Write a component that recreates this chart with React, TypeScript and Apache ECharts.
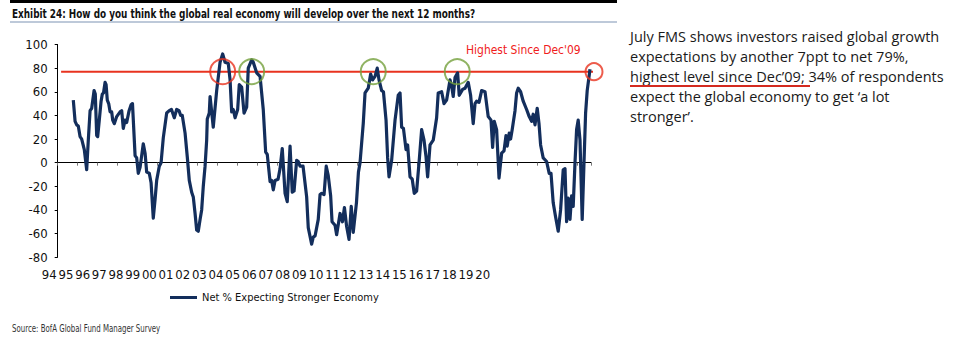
import React, { useEffect, useRef } from "react";
import * as echarts from "echarts";

// Survey dates (decimal years) and net % expecting a stronger economy
const surveyTimes = [
  1994.78, 1994.87, 1994.95, 1995.03, 1995.12, 1995.2, 1995.33, 1995.45, 1995.53, 1995.62,
  1995.7, 1995.82, 1995.88, 1995.95, 1996.0, 1996.08, 1996.17, 1996.23, 1996.29, 1996.37,
  1996.42, 1996.48, 1996.55, 1996.62, 1996.7, 1996.75, 1996.83, 1996.95, 1997.12, 1997.2,
  1997.28, 1997.37, 1997.45, 1997.57, 1997.67, 1997.74, 1997.87, 1997.95, 1998.03, 1998.12,
  1998.28, 1998.37, 1998.45, 1998.58, 1998.67, 1998.78, 1998.87, 1998.95, 1999.08, 1999.17,
  1999.28, 1999.45, 1999.58, 1999.69, 1999.83, 1999.95, 2000.07, 2000.15, 2000.23, 2000.37,
  2000.48, 2000.58, 2000.7, 2000.78, 2000.87, 2000.95, 2001.03, 2001.12, 2001.2, 2001.28,
  2001.37, 2001.45, 2001.48, 2001.58, 2001.62, 2001.78, 2001.95, 2002.12, 2002.25, 2002.37,
  2002.53, 2002.62, 2002.7, 2002.78, 2002.87, 2003.0, 2003.08, 2003.2, 2003.32, 2003.45,
  2003.53, 2003.7, 2003.78, 2003.95, 2004.12, 2004.28, 2004.4, 2004.48, 2004.62, 2004.7,
  2004.78, 2004.87, 2005.02, 2005.12, 2005.23, 2005.37, 2005.48, 2005.62, 2005.73, 2005.82,
  2005.95, 2006.03, 2006.12, 2006.27, 2006.45, 2006.53, 2006.7, 2006.78, 2006.87, 2007.03,
  2007.12, 2007.2, 2007.32, 2007.43, 2007.53, 2007.65, 2007.72, 2007.87, 2007.95, 2008.12,
  2008.24, 2008.34, 2008.45, 2008.57, 2008.68, 2008.78, 2008.94, 2009.04, 2009.12, 2009.28,
  2009.37, 2009.53, 2009.65, 2009.75, 2009.87, 2009.98, 2010.07, 2010.2, 2010.29, 2010.42,
  2010.5, 2010.57, 2010.7, 2010.87, 2011.03, 2011.12, 2011.2, 2011.29, 2011.42, 2011.5,
  2011.62, 2011.73, 2011.83, 2011.95, 2012.08, 2012.2, 2012.32, 2012.42, 2012.5, 2012.62,
  2012.78, 2012.95, 2013.03, 2013.2, 2013.32, 2013.45, 2013.62, 2013.7, 2013.78, 2013.87,
  2014.0, 2014.08, 2014.25, 2014.37, 2014.53, 2014.65, 2014.78, 2014.87, 2014.95, 2015.07,
  2015.2, 2015.37, 2015.53, 2015.67, 2015.75, 2015.83, 2015.95, 2016.07, 2016.2, 2016.32,
  2016.42, 2016.48, 2016.58, 2016.65, 2016.73, 2016.87, 2016.95, 2017.03, 2017.15, 2017.28,
  2017.45, 2017.58, 2017.7, 2017.78, 2017.87, 2017.98, 2018.07, 2018.15, 2018.28, 2018.45,
  2018.58, 2018.67, 2018.78, 2018.9, 2019.03, 2019.15, 2019.28, 2019.37, 2019.45, 2019.53,
  2019.62, 2019.7, 2019.78, 2019.87, 2019.95, 2020.03, 2020.12, 2020.23, 2020.32, 2020.4,
  2020.48, 2020.62,
];

const netStronger = [
  53, 35, 32, 31, 22, 20, 11, -6, 19, 44,
  46, 61, 58, 23, 22, 36, 52, 58, 59, 68,
  66, 53, 50, 43, 43, 36, 33, 39, 43, 44,
  29, 36, 34, 44, 49, 50, 6, 4, -9, -4,
  16, 8, -8, -9, -17, -47, -31, -15, -3, 0,
  21, 42, 44, 45, 38, 45, 44, 40, 40, 25,
  5, -15, -25, -29, -43, -57, -58, -48, -40, -20,
  -3, 19, 37, 42, 56, 30, 61, 85, 92, 85,
  84, 70, 43, 45, 38, 45, 66, 64, 42, 47,
  80, 87, 85, 76, 73, 45, 9, 7, -16, -15,
  -23, -15, -14, -5, 12, -26, -33, 14, -25, -24,
  2, 1, -3, -3, -29, -55, -69, -63, -62, -48,
  -27, -26, -27, -3, -11, -28, -50, -53, -61, -43,
  -50, -38, -54, -65, -37, -59, -34, -8, 0, 33,
  59, 63, 75, 70, 73, 80, 70, 61, 60, 36,
  4, -12, 2, 36, 57, 59, 30, 29, 11, 15,
  -12, -14, -26, -24, 2, 28, 19, 5, -12, 15,
  19, 38, 59, 60, 50, 53, 70, 65, 56, 72,
  76, 57, 62, 63, 68, 57, 33, 50, 52, 51,
  61, 60, 39, 36, 13, 35, 28, -13, 8, 10,
  23, 14, 25, 20, 28, 44, 59, 63, 60, 52,
  45, 39, 35, 41, 32, 46, 33, 15, 4, 1,
  -9, -9, -34, -46, -58, -40, -6, -5, -50, -30,
  -48, -28, -37, 0, 28, 36, 19, -48, 0, 42,
  61, 79,
];

const yearLabels = [
  "94", "95", "96", "97", "98", "99", "00", "01", "02", "03", "04", "05", "06", "07",
  "08", "09", "10", "11", "12", "13", "14", "15", "16", "17", "18", "19", "20",
];

const highestLevel = 77;
const highestLineSpan = [1994.17, 2020.97];
const greenCircleTimes = [2003.7, 2009.78, 2013.98];
const redCircleTimes = [2002.25];
const latestCircleTime = 2020.82;

const seriesName = "Net % Expecting Stronger Economy";
const commentLines = [
  "July FMS shows investors raised global growth",
  "expectations by another 7ppt to net 79%,",
  "highest level since Dec\u201909; 34% of respondents",
  "expect the global economy to get \u2018a lot",
  "stronger\u2019.",
];

const NARROW = "'Liberation Sans Narrow', 'Arial Narrow', 'DejaVu Sans Condensed', 'Liberation Sans', Arial, sans-serif";
const NAVY = "#132e5c";
const RED = "#e8331f";
const GREEN = "#74a03c";

export default function App() {
  const ref = useRef<HTMLDivElement>(null);

  useEffect(() => {
    if (!ref.current) return;
    const chart = echarts.init(ref.current, null, { renderer: "svg" });

    const data = surveyTimes.map((t, i) => [t, netStronger[i]]);
    const circleStyle = (color: string) => ({
      color: "rgba(0,0,0,0)",
      borderColor: color,
      borderWidth: 2,
    });
    const circles = [
      ...redCircleTimes.map((t) => ({ value: [t, highestLevel], symbolSize: 25, itemStyle: circleStyle(RED) })),
      ...greenCircleTimes.map((t) => ({ value: [t, highestLevel], symbolSize: 25, itemStyle: circleStyle(GREEN) })),
      { value: [latestCircleTime, highestLevel], symbolSize: 17, itemStyle: circleStyle(RED) },
    ];

    chart.setOption({
      animation: false,
      backgroundColor: "#ffffff",
      grid: [
        { left: 57.7, right: 371, top: 44.5, bottom: 81.8, outerBoundsMode: "none" },
        { left: 49.3, right: 479.3, top: 200, bottom: 77, outerBoundsMode: "none" },
      ],
      xAxis: [
        {
          type: "value",
          gridIndex: 0,
          min: 1994,
          max: 2020.67,
          interval: 1,
          axisLine: { onZero: true, lineStyle: { color: "#000", width: 1 } },
          axisTick: { show: true, length: 3, lineStyle: { color: "#777" } },
          axisLabel: { show: false },
          splitLine: { show: false },
        },
        {
          type: "value",
          gridIndex: 1,
          min: 0,
          max: yearLabels.length - 1,
          interval: 1,
          axisLine: { show: false },
          axisTick: { show: false },
          splitLine: { show: false },
          axisLabel: {
            margin: 6,
            color: "#111",
            fontSize: 13,
            fontFamily: NARROW,
            showMinLabel: true,
            showMaxLabel: true,
            hideOverlap: false,
            formatter: (v: number) => yearLabels[Math.round(v)] ?? "",
          },
        },
      ],
      yAxis: [
        {
          type: "value",
          gridIndex: 0,
          min: -80,
          max: 100,
          interval: 20,
          axisLine: { show: true, lineStyle: { color: "#000", width: 1 } },
          axisTick: { show: true, length: 3, lineStyle: { color: "#000" } },
          axisLabel: {
            margin: 10,
            color: "#111",
            fontSize: 13,
            fontFamily: NARROW,
          },
          splitLine: { show: false },
        },
        { type: "value", gridIndex: 1, min: 0, max: 1, show: false },
      ],
      legend: {
        left: 170,
        top: 292,
        padding: 0,
        itemWidth: 27,
        itemHeight: 3,
        icon: "rect",
        data: [seriesName],
        textStyle: { color: "#111", fontSize: 11, fontFamily: NARROW },
      },
      series: [
        {
          name: "highest",
          type: "line",
          xAxisIndex: 0,
          yAxisIndex: 0,
          data: highestLineSpan.map((t) => [t, highestLevel]),
          showSymbol: false,
          symbol: "none",
          clip: false,
          silent: true,
          lineStyle: { color: RED, width: 2 },
          z: 2,
        },
        {
          name: seriesName,
          type: "line",
          xAxisIndex: 0,
          yAxisIndex: 0,
          data,
          showSymbol: false,
          symbol: "none",
          clip: false,
          lineStyle: { color: NAVY, width: 3.2, join: "round" },
          itemStyle: { color: NAVY },
          z: 3,
        },
        {
          name: "circles",
          type: "scatter",
          xAxisIndex: 0,
          yAxisIndex: 0,
          symbol: "circle",
          clip: false,
          silent: true,
          data: circles,
          z: 4,
        },
        {
          name: "labels",
          type: "line",
          xAxisIndex: 1,
          yAxisIndex: 1,
          data: [],
          silent: true,
        },
      ],
      graphic: [
        { type: "rect", shape: { x: 10, y: 0, width: 607, height: 3 }, style: { fill: "#000" } },
        {
          type: "line",
          shape: { x1: 10, y1: 22, x2: 617, y2: 22 },
          style: { stroke: "#7d93b3", lineWidth: 1 },
        },
        {
          type: "text",
          x: 12,
          y: 14,
          scaleX: 0.79,
          style: {
            text: "Exhibit 24: How do you think the global real economy will develop over the next 12 months?",
            fill: "#111",
            font: "bold 12.5px " + NARROW,
            verticalAlign: "middle",
          },
        },
        {
          type: "text",
          x: 466,
          y: 49,
          scaleX: 0.92,
          style: {
            text: "Highest Since Dec'09",
            fill: "#f01c1c",
            font: "13px " + NARROW,
            verticalAlign: "middle",
          },
        },
        ...commentLines.map((line, i) => ({
          type: "text",
          x: 630,
          y: 36 + i * 20.2,
          style: {
            text: line,
            fill: "#1a1a1a",
            font: "14.5px 'Open Sans', 'Noto Sans', sans-serif",
            verticalAlign: "middle",
          },
        })),
        {
          type: "line",
          shape: { x1: 630, y1: 86, x2: 810, y2: 86 },
          style: { stroke: "#d42a1f", lineWidth: 2 },
        },
        {
          type: "text",
          x: 12,
          y: 329,
          scaleX: 0.78,
          style: {
            text: "Source: BofA Global Fund Manager Survey",
            fill: "#333",
            font: "10px " + NARROW,
            verticalAlign: "middle",
          },
        },
      ],
    });

    return () => chart.dispose();
  }, []);

  return (
    <div
      ref={ref}
      style={{ position: "absolute", left: 0, top: 0, width: 962, height: 339 }}
    />
  );
}
